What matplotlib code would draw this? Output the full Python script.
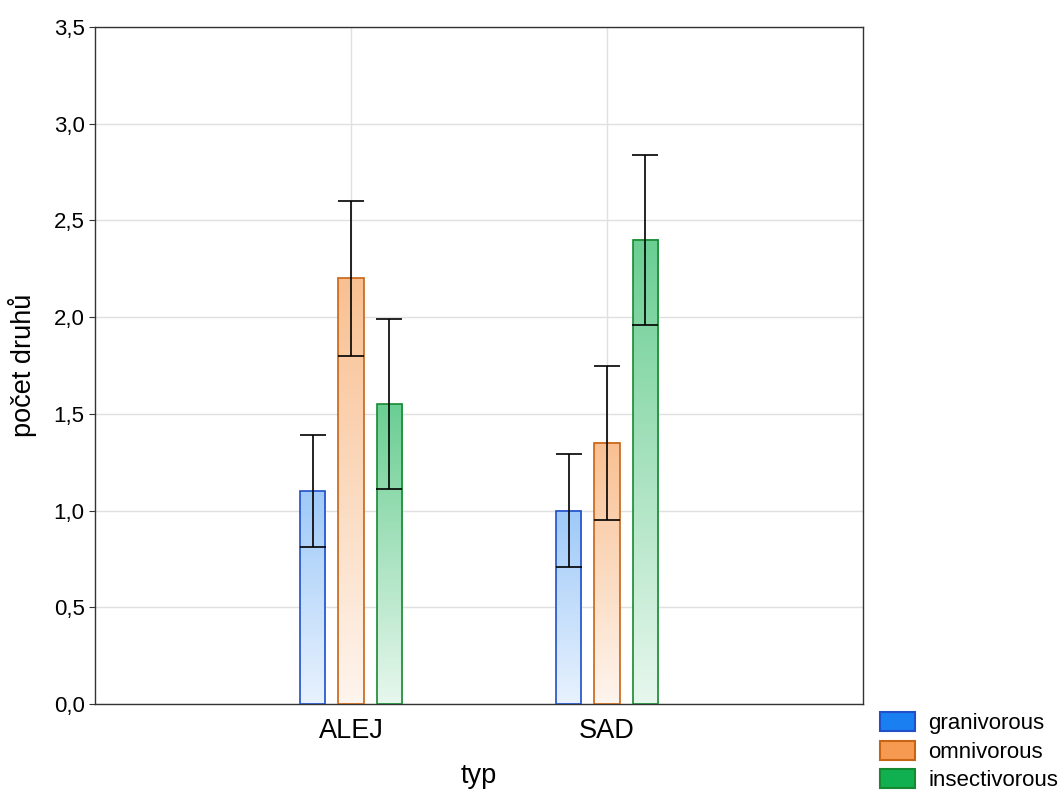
import numpy as np
import matplotlib.pyplot as plt
from matplotlib.patches import Patch
from matplotlib.ticker import FuncFormatter
from matplotlib.colors import to_rgb

plt.rcParams['font.family'] = ['Liberation Sans', 'DejaVu Sans']

# data
categories = ['ALEJ', 'SAD']
groups = ['granivorous', 'omnivorous', 'insectivorous']
means = {
    'granivorous':   [1.10, 1.00],
    'omnivorous':    [2.20, 1.35],
    'insectivorous': [1.55, 2.40],
}
errs = {
    'granivorous':   [0.29, 0.29],
    'omnivorous':    [0.40, 0.40],
    'insectivorous': [0.44, 0.44],
}

base_cols = ['#1a7ff0', '#f59a50', '#10b050']
edge_cols = ['#2050c8', '#c86414', '#168a30']
top_mix = [0.42, 0.62, 0.62]

fig = plt.figure(figsize=(10.6, 7.92), dpi=100)
ax = fig.add_axes([95/1060, 1 - 704/792, 768/1060, 677/792])

x = np.arange(len(categories))
width = 0.1
offsets = [-0.15, 0.0, 0.15]

for g, off, bc, ec, tm in zip(groups, offsets, base_cols, edge_cols, top_mix):
    rgb = np.array(to_rgb(bc))
    for xi, h, e in zip(x, means[g], errs[g]):
        x0 = xi + off - width / 2
        # vertical gradient: stronger colour at the top, pale at the bottom
        t = np.linspace(0.1, tm, 100)[:, None]
        img = 1 - (1 - rgb[None, :]) * t
        img = img[:, None, :]
        ax.imshow(img, extent=[x0, x0 + width, 0, h], origin='lower',
                  aspect='auto', zorder=2, interpolation='bilinear')
        ax.bar(xi + off, h, width, facecolor='none', edgecolor=ec,
               linewidth=1.2, zorder=3)
        ax.errorbar(xi + off, h, yerr=e, fmt='none', ecolor='black',
                    elinewidth=1.2, capsize=9.4, capthick=1.2, zorder=4)

ax.set_xlim(-1, 2)
ax.set_ylim(0, 3.5)
ax.set_xticks(x)
ax.set_xticklabels(categories)
ax.set_yticks(np.arange(0, 3.51, 0.5))
ax.yaxis.set_major_formatter(FuncFormatter(lambda v, p: f'{v:.1f}'.replace('.', ',')))
ax.grid(True, color='#e0e0e0', linewidth=1, zorder=0)
ax.set_axisbelow(True)
ax.tick_params(axis='y', direction='out', length=4, labelsize=16, color='#333333')
ax.tick_params(axis='x', direction='in', length=4, labelsize=19.5, pad=10, color='#333333')
for s in ax.spines.values():
    s.set_color('#333333')
    s.set_linewidth(1)

ax.set_xlabel('typ', fontsize=19.5, labelpad=14)
ax.set_ylabel('počet druhů', fontsize=19.5, labelpad=12)

handles = [Patch(facecolor=bc, edgecolor=ec, linewidth=1.5) for bc, ec in zip(base_cols, edge_cols)]
fig.legend(handles, groups, loc='lower left', bbox_to_anchor=(0.818, -0.016),
           frameon=False, fontsize=16, handlelength=1.55, handleheight=0.95,
           labelspacing=0.28, handletextpad=0.6, borderaxespad=0.2)

fig.savefig('out.png', dpi=100)
